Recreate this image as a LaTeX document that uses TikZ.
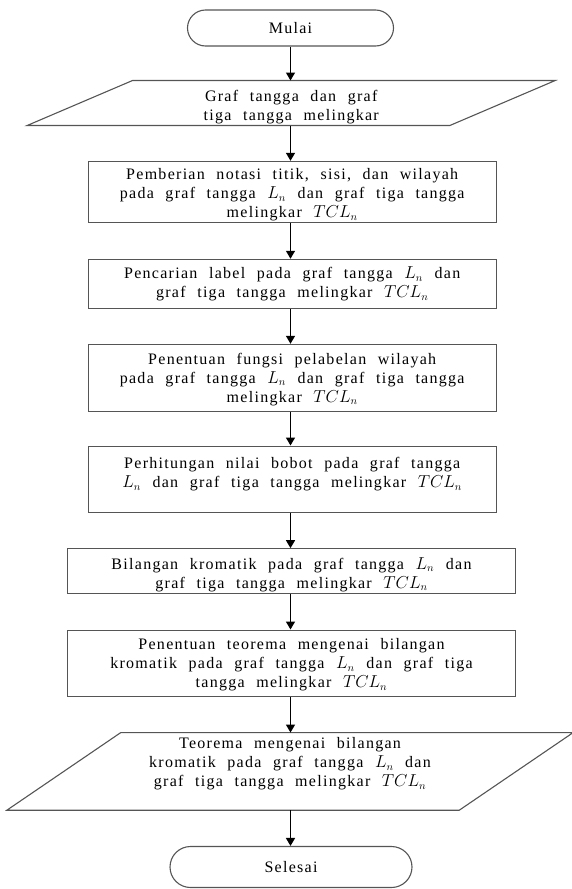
\documentclass[tikz,border=0pt]{standalone}
\usepackage{fontspec}
\setmainfont[LetterSpace=8,WordSpace=2.2]{Liberation Serif}
\usetikzlibrary{arrows.meta,shapes.misc}
\definecolor{boxgray}{RGB}{85,85,85}
\newcommand{\txtdn}[1]{\rule{0pt}{#1}}
\newcommand{\txtup}[1]{\rule[-#1]{0pt}{0pt}}
\begin{document}
\begin{tikzpicture}[x=1pt,y=-1pt,
  txt/.style={align=center, inner sep=0pt, font=\fontsize{16}{19}\selectfont},
  procbox/.style={txt, draw=boxgray, line width=1.1pt, rectangle},
  termbox/.style={txt, draw=boxgray, line width=1.1pt, rounded rectangle},
  iobox/.style={txt, rectangle},
  iodraw/.style={draw=boxgray, line width=1.1pt, line join=miter},
  arr/.style={draw=black, line width=1.4pt, -{Triangle[length=8pt,width=9pt]}}]
\useasboundingbox (0,0) rectangle (571,889);

\node[termbox, minimum width=206pt, minimum height=36pt] (m) at (290.5,28) {Mulai};

\node[iobox, minimum width=422.3pt, minimum height=44.6pt] (p1) at (291.2,103)
  {\txtdn{18.5pt}Graf tangga dan graf\\tiga tangga melingkar};
\draw[iodraw] ([xshift=52.7pt]p1.north west) -- ([xshift=52.7pt]p1.north east)
  -- ([xshift=-52.7pt]p1.south east) -- ([xshift=-52.7pt]p1.south west) -- cycle;

\node[procbox, minimum width=407.7pt, minimum height=60.7pt] (b1) at (292.2,191.7)
  {\txtdn{17.5pt}Pemberian notasi titik, sisi, dan wilayah\\pada graf tangga $L_n$ dan graf tiga tangga\\melingkar $TCL_n$};

\node[procbox, minimum width=407.7pt, minimum height=49pt] (b2) at (292.2,283.8)
  {Pencarian label pada graf tangga $L_n$ dan\\graf tiga tangga melingkar $TCL_n$};

\node[procbox, minimum width=407.7pt, minimum height=66.7pt] (b3) at (292.2,377.7)
  {\txtdn{14.5pt}Penentuan fungsi pelabelan wilayah\\pada graf tangga $L_n$ dan graf tiga tangga\\melingkar $TCL_n$};

\node[procbox, minimum width=407.7pt, minimum height=66.3pt] (b4) at (292.2,479.2)
  {Perhitungan nilai bobot pada graf tangga\\$L_n$ dan graf tiga tangga melingkar $TCL_n$\txtup{13pt}};

\node[procbox, minimum width=448.4pt, minimum height=44.6pt] (b5) at (291.5,571)
  {\txtdn{18.5pt}Bilangan kromatik pada graf tangga $L_n$ dan\\graf tiga tangga melingkar $TCL_n$};

\node[procbox, minimum width=448.4pt, minimum height=66.7pt] (b6) at (291.5,663.4)
  {\txtdn{13.5pt}Penentuan teorema mengenai bilangan\\kromatik pada graf tangga $L_n$ dan graf tiga\\tangga melingkar $TCL_n$};

\node[iobox, minimum width=452pt, minimum height=77.3pt] (p2) at (290,771.4)
  {Teorema mengenai bilangan\\kromatik pada graf tangga $L_n$ dan\\graf tiga tangga melingkar $TCL_n$\txtup{19pt}};
\draw[iodraw] ([xshift=57pt]p2.north west) -- ([xshift=57pt]p2.north east)
  -- ([xshift=-57pt]p2.south east) -- ([xshift=-57pt]p2.south west) -- cycle;

\node[termbox, minimum width=242pt, minimum height=41pt] (s) at (291,867) {Selesai};

\draw[arr] (m.south) -- (m.south |- p1.north);
\draw[arr] (m.south |- p1.south) -- (m.south |- b1.north);
\draw[arr] (m.south |- b1.south) -- (m.south |- b2.north);
\draw[arr] (m.south |- b2.south) -- (m.south |- b3.north);
\draw[arr] (m.south |- b3.south) -- (m.south |- b4.north);
\draw[arr] (m.south |- b4.south) -- (m.south |- b5.north);
\draw[arr] (m.south |- b5.south) -- (m.south |- b6.north);
\draw[arr] (m.south |- b6.south) -- (m.south |- p2.north);
\draw[arr] (m.south |- p2.south) -- (m.south |- s.north);
\end{tikzpicture}
\end{document}
